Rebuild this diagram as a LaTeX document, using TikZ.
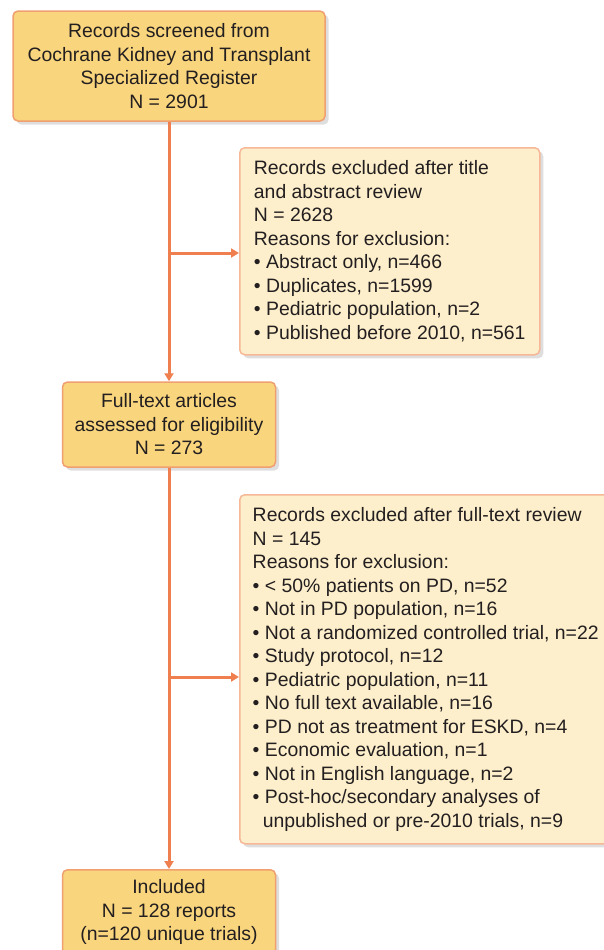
\documentclass[tikz,border=0pt]{standalone}
\usepackage{fontspec}
\setmainfont{Liberation Sans}
\usetikzlibrary{arrows.meta,shadows}

\definecolor{boxdark}{HTML}{F9D57D}
\definecolor{boxlight}{HTML}{FDEFCB}
\definecolor{edgedark}{HTML}{F0A070}
\definecolor{edgelight}{HTML}{F6B896}
\definecolor{flowline}{HTML}{EF7F4F}
\definecolor{ink}{HTML}{231F20}

\begin{document}
\begin{tikzpicture}[x=0.5pt, y=-0.5pt,
    every node/.style={font=\fontsize{9.7}{11.75}\selectfont, text=ink},
    stagebox/.style={draw=edgedark, fill=boxdark, line width=0.75pt, rounded corners=2.5pt,
        align=center, minimum width=106.5pt, minimum height=42.5pt, inner sep=0pt,
        drop shadow={shadow xshift=1.8pt, shadow yshift=-1.8pt, fill=black, opacity=0.13}},
    exclbox/.style={draw=edgelight, fill=boxlight, line width=0.75pt, rounded corners=2.5pt,
        align=left, anchor=north west, inner xsep=6.5pt, inner ysep=0pt,
        drop shadow={shadow xshift=1.8pt, shadow yshift=-1.8pt, fill=black, opacity=0.13}},
    flow/.style={draw=flowline, line width=1.5pt, -{Triangle[length=4pt, width=4.5pt]}}]
            \useasboundingbox (0, 0) rectangle (604, 950);
            \clip (0, 0) rectangle (604, 950);

            % Nodes
            \node[stagebox, minimum width=156pt, minimum height=55pt] at (169, 66) (screen)
                {Records screened from\\Cochrane Kidney and Transplant\\Specialized Register\\N = 2901};
            \node[exclbox, minimum width=150pt, minimum height=103.5pt] at (239, 147) (excltitle)
                {Records excluded after title\\and abstract review\\N = 2628\\Reasons for exclusion:\\
                 • Abstract only, n=466\\• Duplicates, n=1599\\• Pediatric population, n=2\\
                 • Published before 2010, n=561};
            \node[stagebox] at (169, 424.5) (fulltext)
                {Full-text articles\\assessed for eligibility\\N = 273};
            \node[exclbox, minimum height=174.5pt] at (239, 494) (exclfull)
                {Records excluded after full-text review\\N = 145\\Reasons for exclusion:\\
                 • < 50\% patients on PD, n=52\\• Not in PD population, n=16\\
                 • Not a randomized controlled trial, n=22\\• Study protocol, n=12\\
                 • Pediatric population, n=11\\• No full text available, n=16\\
                 • PD not as treatment for ESKD, n=4\\• Economic evaluation, n=1\\
                 • Not in English language, n=2\\• Post-hoc/secondary analyses of\\
                 \phantom{•}\,unpublished or pre-2010 trials, n=9};
            \node[stagebox, anchor=north] at (169, 869) (included)
                {Included\\N = 128 reports\\(n=120 unique trials)};

            % Edges
            \coordinate (branchA) at (169, 253);
            \coordinate (branchB) at (169, 677);
            \draw[flow] (screen) -- (fulltext);
            \draw[flow] (fulltext) -- (included);
            \draw[flow] (branchA) -- (branchA -| excltitle.west);
            \draw[flow] (branchB) -- (branchB -| exclfull.west);
        \end{tikzpicture}
\end{document}
